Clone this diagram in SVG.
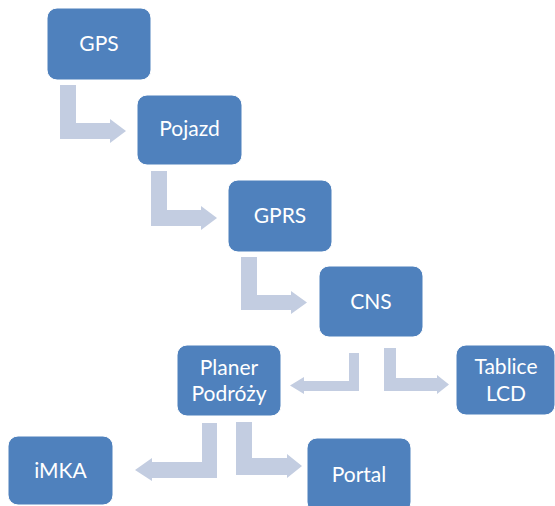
<svg xmlns="http://www.w3.org/2000/svg" width="555" height="506" viewBox="0 0 555 506">
<style>
.box{fill:#4F81BD;stroke:#ffffff;stroke-width:1}
.lbl{font-family:Lato,"Open Sans","Liberation Sans",sans-serif;font-size:21px;fill:#ffffff;text-anchor:middle}
.arr{fill:#C3CDE1;stroke:none}
</style>
<rect width="555" height="506" fill="#ffffff"/>
<g id="connectors">
<path class="arr" d="M60,85 H76 V123 H110 V119 L126,131 L110,143 V139 H60 Z"/>
<path class="arr" d="M151,171 H167 V210 H201 V206 L217,218 L201,230 V226 H151 Z"/>
<path class="arr" d="M241,257 H257 V295 H291 V291 L307,302.5 L291,314 V310 H241 Z"/>
<path class="arr" d="M349,353 H359 V391 H304 V394 L290,385.5 L304,377 V381 H349 Z"/>
<path class="arr" d="M384,348 H396 V378 H437 V375 L449,384.5 L437,394 V391 H384 Z"/>
<path class="arr" d="M202,423 H217 V478 H152 V481 L135,470 L152,458 V462 H202 Z"/>
<path class="arr" d="M236,422 H252 V458 H287 V454 L302,466 L287,478 V475 H236 Z"/>
</g>
<g id="gps"><rect class="box" x="47" y="8" width="104" height="72" rx="10"/><text class="lbl" x="99" y="51">GPS</text></g>
<g id="pojazd"><rect class="box" x="137" y="95" width="105" height="70" rx="10"/><text class="lbl" x="189.5" y="136">Pojazd</text></g>
<g id="gprs"><rect class="box" x="228" y="180" width="104" height="72" rx="10"/><text class="lbl" x="280" y="223">GPRS</text></g>
<g id="cns"><rect class="box" x="319" y="266" width="104" height="71" rx="10"/><text class="lbl" x="371" y="309">CNS</text></g>
<g id="planer"><rect class="box" x="177" y="345" width="104" height="71" rx="10"/><text class="lbl" x="229" y="375">Planer</text><text class="lbl" x="229" y="401">Podróży</text></g>
<g id="tablice"><rect class="box" x="456" y="345" width="99" height="70" rx="10"/><text class="lbl" x="506" y="374">Tablice</text><text class="lbl" x="506" y="401">LCD</text></g>
<g id="imka"><rect class="box" x="8" y="436" width="105" height="69" rx="10"/><text class="lbl" x="60.5" y="478">iMKA</text></g>
<g id="portal"><rect class="box" x="307" y="438" width="104" height="74" rx="10"/><text class="lbl" x="359" y="482">Portal</text></g>
</svg>
